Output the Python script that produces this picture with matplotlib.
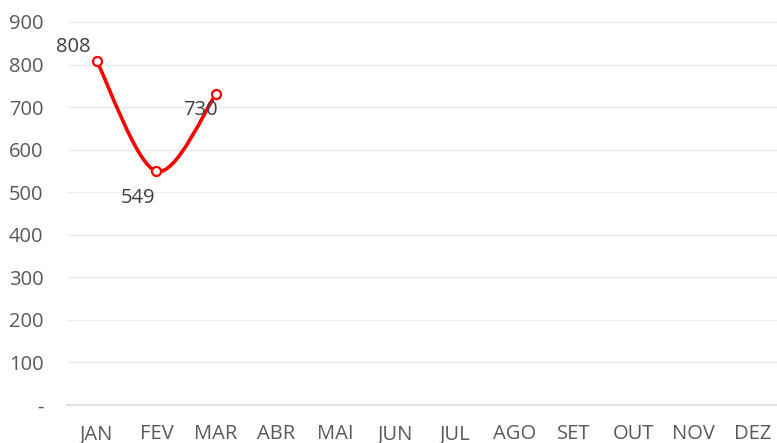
import matplotlib
matplotlib.use("Agg")
import matplotlib.pyplot as plt
import numpy as np
from matplotlib.path import Path
from matplotlib.patches import PathPatch

months = ["JAN", "FEV", "MAR", "ABR", "MAI", "JUN", "JUL", "AGO", "SET", "OUT", "NOV", "DEZ"]
values = [808, 549, 730]
yticks = [0, 100, 200, 300, 400, 500, 600, 700, 800, 900]
ytick_labels = ["-", "100", "200", "300", "400", "500", "600", "700", "800", "900"]
label_offsets = [(-17, 10), (-13, -19), (-11, -11)]

plt.rcParams['font.family'] = ['Open Sans', 'DejaVu Sans']

fig = plt.figure(figsize=(7.77, 4.43), dpi=100)
ax = fig.add_axes([67/777, (443-405)/443, 710/777, (405-22)/443])

x = np.arange(len(values))
y = np.array(values, dtype=float)

# Catmull-Rom style smoothing (Excel-like) via cubic Bezier segments
verts = [(x[0], y[0])]
codes = [Path.MOVETO]
n = len(x)
for i in range(n - 1):
    p0 = (x[i-1], y[i-1]) if i > 0 else (x[i], y[i])
    p1 = (x[i], y[i])
    p2 = (x[i+1], y[i+1])
    p3 = (x[i+2], y[i+2]) if i + 2 < n else (x[i+1], y[i+1])
    t = 1/6
    c1 = (p1[0] + (p2[0]-p0[0])*t, p1[1] + (p2[1]-p0[1])*t)
    c2 = (p2[0] - (p3[0]-p1[0])*t, p2[1] - (p3[1]-p1[1])*t)
    verts += [c1, c2, p2]
    codes += [Path.CURVE4]*3
patch = PathPatch(Path(verts, codes), facecolor='none', edgecolor='#FF0000', lw=2.6, zorder=3, capstyle='round')
ax.add_patch(patch)
ax.plot(x, y, linestyle='none', marker='o', markersize=6.5, markerfacecolor='white',
        markeredgecolor='#FF0000', markeredgewidth=1.6, zorder=4)

for xi, yi, off in zip(x, y, label_offsets):
    ax.annotate(f"{int(yi)}", (xi, yi), xytext=off, textcoords='offset points',
                ha='center', va='center', fontsize=14.5, color='#404040', zorder=5)

ax.set_xlim(-0.5, 11.41)
ax.set_ylim(0, 900)
ax.set_yticks(yticks)
ax.set_yticklabels(ytick_labels)
ax.set_xticks(np.arange(len(months)))
ax.set_xticklabels(months)
ax.tick_params(axis='both', length=0, labelsize=14.5, colors='#595959')
ax.tick_params(axis='y', pad=17)
ax.tick_params(axis='x', pad=14)
ax.grid(axis='y', color='#EDEDED', lw=1)
ax.set_axisbelow(True)
for s in ['top', 'right', 'left']:
    ax.spines[s].set_visible(False)
ax.spines['bottom'].set_color('#D9D9D9')
ax.spines['bottom'].set_linewidth(1.2)

fig.savefig("out.png", dpi=100)
